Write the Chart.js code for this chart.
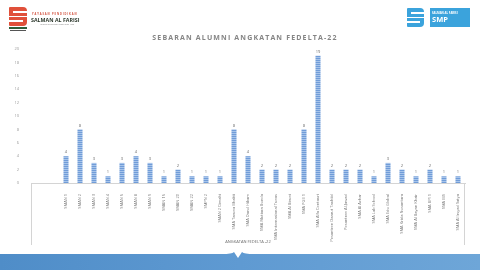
<!DOCTYPE html>
<html>
<head>
<meta charset="utf-8">
<script src="https://cdn.jsdelivr.net/npm/chart.js@4.4.0/dist/chart.umd.min.js"></script>
<style>
  html, body { margin: 0; padding: 0; background: #fff; }
  #page { position: relative; width: 480px; height: 270px; overflow: hidden; font-family: "Open Sans", sans-serif; }
  #chart { position: absolute; left: 0; top: 0; }
  .abs { position: absolute; }
  #title { left: 0; width: 490px; top: 33px; text-align: center; font-size: 7px; font-weight: 700; color: #858585; letter-spacing: 1.15px; }
</style>
</head>
<body>
<div id="page">
  <canvas id="chart" width="480" height="270"></canvas>

  <!-- left logo -->
  <div class="abs" style="left:9px;top:7px;width:18px;height:9px;background:#e0503a;border-radius:1px 4px 0 0;"></div>
  <div class="abs" style="left:9px;top:17px;width:18px;height:9px;background:#e0503a;border-radius:0 0 4px 1px;"></div>
  <div class="abs" style="left:13px;top:11px;width:14px;height:2px;background:#fff;"></div>
  <div class="abs" style="left:9px;top:20px;width:14px;height:2px;background:#fff;"></div>
  <div class="abs" style="left:9px;top:27px;width:18px;height:1.5px;background:#2f5e3a;"></div>
  <div class="abs" style="left:10px;top:29.5px;width:16px;height:1px;background:#555;"></div>
  <div class="abs" style="left:32px;top:12px;font-size:2.6px;color:#d04a36;letter-spacing:0.9px;font-weight:700;">YAYASAN PENDIDIKAN</div>
  <div class="abs" style="left:31px;top:15.5px;font-size:5.3px;color:#2f3b2f;font-weight:700;">SALMAN AL FARISI</div>
  <div class="abs" style="left:40px;top:23px;font-size:2px;color:#888;">yayasan pendidikan islam sejak 1990</div>

  <!-- right logo -->
  <div class="abs" style="left:407px;top:8px;width:17px;height:9px;background:#3ba3dc;border-radius:1px 4px 0 0;"></div>
  <div class="abs" style="left:407px;top:18px;width:17px;height:9px;background:#3ba3dc;border-radius:0 0 4px 1px;"></div>
  <div class="abs" style="left:411px;top:12px;width:13px;height:2px;background:#fff;"></div>
  <div class="abs" style="left:407px;top:21px;width:13px;height:2px;background:#fff;"></div>
  <div class="abs" style="left:430px;top:8px;width:40px;height:19px;background:#3ba3dc;"></div>
  <div class="abs" style="left:432px;top:10.5px;font-size:2.8px;color:#fff;font-weight:700;">SALMAN AL FARISI</div>
  <div class="abs" style="left:432px;top:14px;font-size:7.5px;color:#fff;font-weight:700;">SMP</div>

  <div id="title" class="abs">SEBARAN ALUMNI ANGKATAN FEDELTA-22</div>

  <!-- bottom band -->
  <svg class="abs" style="left:0;top:244px;" width="480" height="26">
    <defs>
      <linearGradient id="band" x1="0" x2="1" y1="0" y2="0">
        <stop offset="0" stop-color="#4f8dc8"/>
        <stop offset="0.5" stop-color="#5f9ad2"/>
        <stop offset="1" stop-color="#6ea6d8"/>
      </linearGradient>
    </defs>
    <path d="M0,10 L222,10 Q232,10 234,8 L238,14 L242,8 Q244,10 254,10 L480,10 L480,26 L0,26 Z" fill="url(#band)"/>
  </svg>
</div>

<script>
// schools (x categories)
const categories = [
  'SMAN 1', 'SMAN 2', 'SMAN 3', 'SMAN 4', 'SMAN 5', 'SMAN 8', 'SMAN 9', 'SMAN 15',
  'SMAN 20', 'SMAN 22', 'SMPN 2', 'SMAN 2 Cimahi', 'SMA Taruna Bhakti', 'SMA Darul Hikam',
  'SMA Mutiara Bunda', 'SMA Internasional Tunas', 'SMA Al Biruni', 'SMA PGII 1',
  'SMA Alfa Centauri', 'Pesantren Daarut Tauhiid', 'Pesantren Al-Jawad', 'SMA Al Azhar',
  'SMA Lab School', 'SMA Edu Global', 'SMA Krida Nusantara', 'SMA Al Bayan Khair',
  'SMA BPI 1', 'SMA IBS', 'SMA Al Irsyad Satya'
];
// number of alumni per school
const alumni = [4, 8, 3, 1, 3, 4, 3, 1, 2, 1, 1, 1, 8, 4, 2, 2, 2, 8, 19, 2, 2, 2, 1, 3, 2, 1, 2, 1, 1];
const yTicks = [0, 2, 4, 6, 8, 10, 12, 14, 16, 18, 20];
const axisTitle = 'ANGKATAN FEDELTA -22';

// the plot leaves two empty slots before the first school
const labels = ['', ''].concat(categories);
const values = [null, null].concat(alumni);

// striped bar fill
const pc = document.createElement('canvas');
pc.width = 2; pc.height = 2;
const pctx = pc.getContext('2d');
pctx.fillStyle = '#709cd8'; pctx.fillRect(0, 0, 2, 1);
pctx.fillStyle = '#a7c4ea'; pctx.fillRect(0, 1, 2, 1);
const ctx = document.getElementById('chart').getContext('2d');
const stripes = ctx.createPattern(pc, 'repeat');

// value labels above bars
const valueLabels = {
  id: 'valueLabels',
  afterDatasetsDraw(chart) {
    const c = chart.ctx;
    const meta = chart.getDatasetMeta(0);
    c.save();
    c.font = '4px "Open Sans", sans-serif';
    c.fillStyle = '#666';
    c.textAlign = 'center';
    c.textBaseline = 'bottom';
    meta.data.forEach((bar, i) => {
      if (values[i] == null) return;
      c.fillText(values[i], bar.x, bar.y - 2);
    });
    c.restore();
  }
};

// box lines down the sides of the label area
const frame = {
  id: 'frame',
  afterDraw(chart) {
    const c = chart.ctx;
    const a = chart.chartArea;
    const x = chart.scales.x;
    c.save();
    c.strokeStyle = '#d4d4d4';
    c.lineWidth = 1;
    c.beginPath();
    c.moveTo(a.left + 0.5, a.bottom);
    c.lineTo(a.left + 0.5, x.bottom);
    c.moveTo(a.right - 0.5, a.bottom);
    c.lineTo(a.right - 0.5, x.bottom);
    c.stroke();
    c.restore();
  }
};

new Chart(ctx, {
  type: 'bar',
  data: {
    labels: labels,
    datasets: [{
      data: values,
      backgroundColor: stripes,
      borderWidth: 0,
      categoryPercentage: 1,
      barPercentage: 0.36
    }]
  },
  options: {
    responsive: false,
    animation: false,
    layout: { padding: { left: 0, right: 15, top: 49, bottom: 25 } },
    plugins: {
      legend: { display: false },
      tooltip: { enabled: false }
    },
    scales: {
      x: {
        grid: { display: false },
        border: { display: true, color: '#d4d4d4' },
        ticks: {
          autoSkip: false,
          minRotation: 90,
          maxRotation: 90,
          padding: 3,
          color: '#777',
          font: { size: 4, family: '"Open Sans", sans-serif' }
        },
        title: {
          display: true,
          text: axisTitle,
          color: '#666',
          padding: { top: 0, bottom: 1 },
          font: { size: 4, family: '"Open Sans", sans-serif' }
        },
        afterFit: s => { s.height = 62; }
      },
      y: {
        min: 0,
        max: 20,
        grid: { display: false },
        border: { display: false },
        afterBuildTicks: s => { s.ticks = yTicks.map(v => ({ value: v })); },
        ticks: {
          padding: 4,
          color: '#999',
          font: { size: 4, family: '"Open Sans", sans-serif' }
        },
        afterFit: s => { s.width = 31; }
      }
    }
  },
  plugins: [valueLabels, frame]
});
</script>
</body>
</html>
